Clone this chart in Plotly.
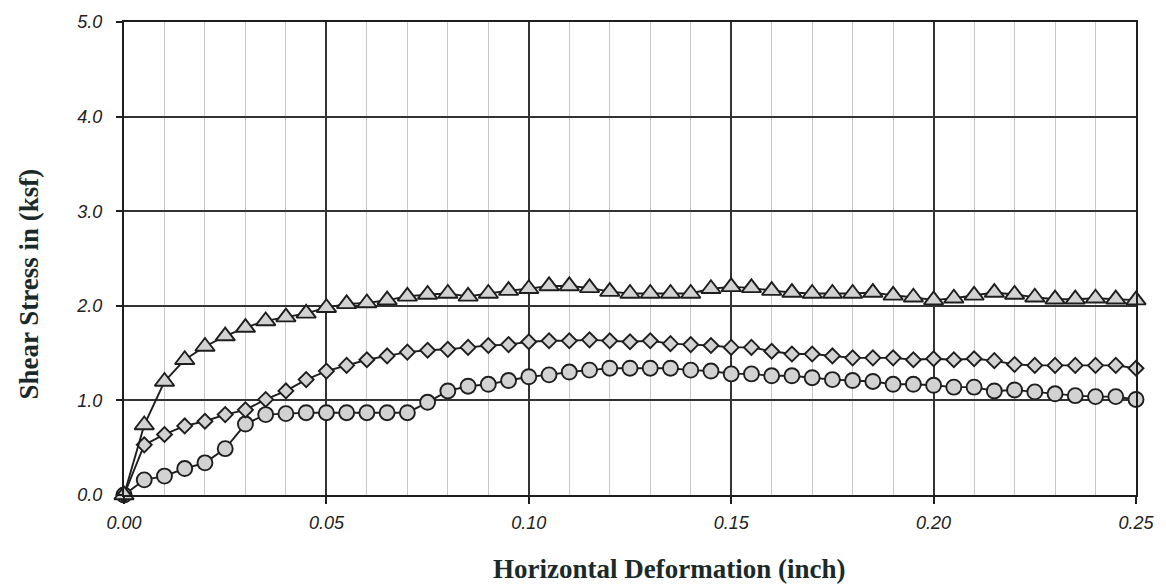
import plotly.graph_objects as go

# Horizontal deformation (inch)
deformation = [round(i * 0.005, 3) for i in range(51)]

# Shear stress (ksf) for three tests
stress_triangle = [0.00, 0.74, 1.20, 1.43, 1.57, 1.68, 1.77, 1.84, 1.88, 1.92,
                   1.98, 2.02, 2.03, 2.06, 2.10, 2.12, 2.13, 2.10, 2.13, 2.16,
                   2.18, 2.21, 2.21, 2.19, 2.15, 2.13, 2.13, 2.13, 2.13, 2.18,
                   2.20, 2.19, 2.16, 2.14, 2.13, 2.13, 2.13, 2.14, 2.11, 2.09,
                   2.06, 2.08, 2.11, 2.14, 2.12, 2.09, 2.07, 2.07, 2.08, 2.07,
                   2.06]
stress_diamond = [0.00, 0.53, 0.64, 0.73, 0.78, 0.85, 0.90, 1.01, 1.10, 1.22,
                  1.31, 1.37, 1.43, 1.47, 1.51, 1.53, 1.54, 1.56, 1.58, 1.59,
                  1.62, 1.63, 1.63, 1.64, 1.63, 1.62, 1.63, 1.60, 1.59, 1.58,
                  1.56, 1.56, 1.52, 1.49, 1.49, 1.47, 1.45, 1.45, 1.45, 1.43,
                  1.44, 1.43, 1.44, 1.42, 1.38, 1.37, 1.37, 1.37, 1.37, 1.37,
                  1.34]
stress_circle = [0.00, 0.16, 0.20, 0.28, 0.34, 0.49, 0.75, 0.85, 0.86, 0.87,
                 0.87, 0.87, 0.87, 0.87, 0.87, 0.98, 1.10, 1.15, 1.17, 1.21,
                 1.25, 1.27, 1.30, 1.32, 1.34, 1.34, 1.34, 1.34, 1.32, 1.31,
                 1.28, 1.28, 1.26, 1.26, 1.24, 1.22, 1.21, 1.20, 1.17, 1.17,
                 1.16, 1.14, 1.14, 1.10, 1.11, 1.09, 1.07, 1.05, 1.04, 1.04,
                 1.01]

x_title = "Horizontal Deformation (inch)"
y_title = "Shear Stress in (ksf)"

DARK = "#1e1e1e"
FILL = "#d2d2d2"

fig = go.Figure()

def add(y, symbol, size):
    fig.add_trace(go.Scatter(
        x=deformation, y=y, mode="lines+markers",
        line=dict(color=DARK, width=1.9),
        marker=dict(symbol=symbol, size=size, color=FILL,
                    line=dict(color=DARK, width=1.9)),
        cliponaxis=False, showlegend=False,
    ))

add(stress_circle, "circle", 15)
add(stress_diamond, "diamond", 11.5)
add(stress_triangle, "triangle-up", 17)

tickfont = dict(family="Liberation Sans", size=18, color="#222", style="italic")

fig.update_layout(
    width=1166, height=588,
    margin=dict(l=124, r=26, t=17, b=93),
    paper_bgcolor="white", plot_bgcolor="white",
    xaxis=dict(
        range=[0, 0.25], dtick=0.05, tick0=0, tickformat=".2f",
        ticks="outside", ticklen=7, tickwidth=1.5, tickcolor=DARK,
        showline=True, linecolor=DARK, linewidth=2, mirror=True,
        showgrid=True, gridcolor="#333", gridwidth=1.5,
        zeroline=False, tickfont=tickfont, ticklabelstandoff=3,
        minor=dict(dtick=0.01, tick0=0, showgrid=True, gridcolor="#c8c8c8",
                   gridwidth=1, ticks=""),
    ),
    yaxis=dict(
        range=[0, 5], dtick=1, tick0=0, tickformat=".1f",
        ticks="outside", ticklen=6, tickwidth=1.5, tickcolor=DARK,
        showline=True, linecolor=DARK, linewidth=2, mirror=True,
        showgrid=True, gridcolor="#333", gridwidth=1.5,
        zeroline=False, tickfont=tickfont, ticklabelstandoff=10,
    ),
    annotations=[
        dict(text=x_title, xref="paper", yref="paper",
             x=(671 - 124) / (1140 - 124), y=-(570 - 495) / (495 - 17),
             xanchor="center", yanchor="middle", showarrow=False,
             font=dict(family="Liberation Serif", size=27, color="#1a2a2a",
                       weight="bold")),
        dict(text=y_title, xref="paper", yref="paper",
             x=-(124 - 29) / (1140 - 124), y=(495 - 282) / (495 - 17),
             xanchor="center", yanchor="middle", showarrow=False, textangle=-90,
             font=dict(family="Liberation Serif", size=27, color="#1a2a2a",
                       weight="bold")),
    ],
)

fig.write_html("out.html")
